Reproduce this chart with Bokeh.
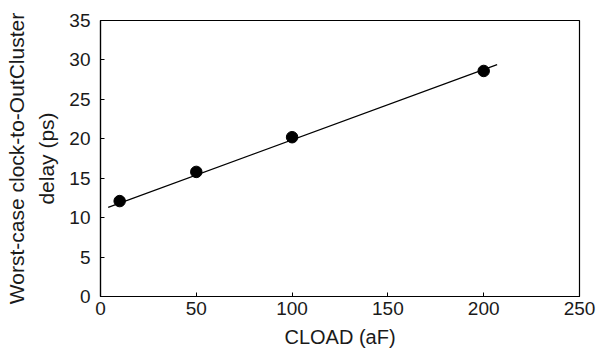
from bokeh.plotting import figure
from bokeh.models import Range1d, FixedTicker
from bokeh.embed import file_html
from bokeh.resources import INLINE

cload = [10, 50, 100, 200]
delay = [12.1, 15.8, 20.2, 28.6]
fit_x = [4, 207]
fit_y = [11.3, 29.4]
x_ticks = [0, 50, 100, 150, 200, 250]
y_ticks = [0, 5, 10, 15, 20, 25, 30, 35]

FONT = "Liberation Sans"

p = figure(width=599, height=353, output_backend="svg", toolbar_location=None,
           x_range=Range1d(0, 250), y_range=Range1d(0, 35),
           min_border_left=100, min_border_right=20, min_border_top=20, min_border_bottom=57)

p.line(fit_x, fit_y, line_color="black", line_width=1.2)
p.scatter(cload, delay, size=11.5, fill_color="black", line_color="black")

p.xgrid.visible = False
p.ygrid.visible = False
p.outline_line_color = "black"
p.outline_line_width = 1.2
p.outline_line_alpha = 1

p.xaxis.axis_label = "CLOAD (aF)"
p.yaxis.axis_label = "Worst-case clock-to-OutCluster\ndelay (ps)"
p.xaxis.ticker = FixedTicker(ticks=x_ticks)
p.yaxis.ticker = FixedTicker(ticks=y_ticks)

for ax in (p.xaxis[0], p.yaxis[0]):
    ax.axis_line_color = "black"
    ax.axis_line_width = 1.2
    ax.major_tick_in = 4
    ax.major_tick_out = 0
    ax.major_tick_line_color = "black"
    ax.minor_tick_line_color = None
    ax.major_label_text_font = FONT
    ax.major_label_text_font_size = "19px"
    ax.major_label_text_color = "#1a1a1a"
    ax.axis_label_text_font = FONT
    ax.axis_label_text_font_size = "20px"
    ax.axis_label_text_font_style = "normal"
    ax.axis_label_text_color = "#1a1a1a"

p.yaxis.axis_label_text_font_size = "21px"
p.xaxis.major_label_standoff = 5
p.yaxis.major_label_standoff = 10
p.xaxis.axis_label_standoff = 8
p.yaxis.axis_label_standoff = 8
p.yaxis.axis_label_text_line_height = 1.34

open("out.html", "w").write(file_html(p, INLINE))
